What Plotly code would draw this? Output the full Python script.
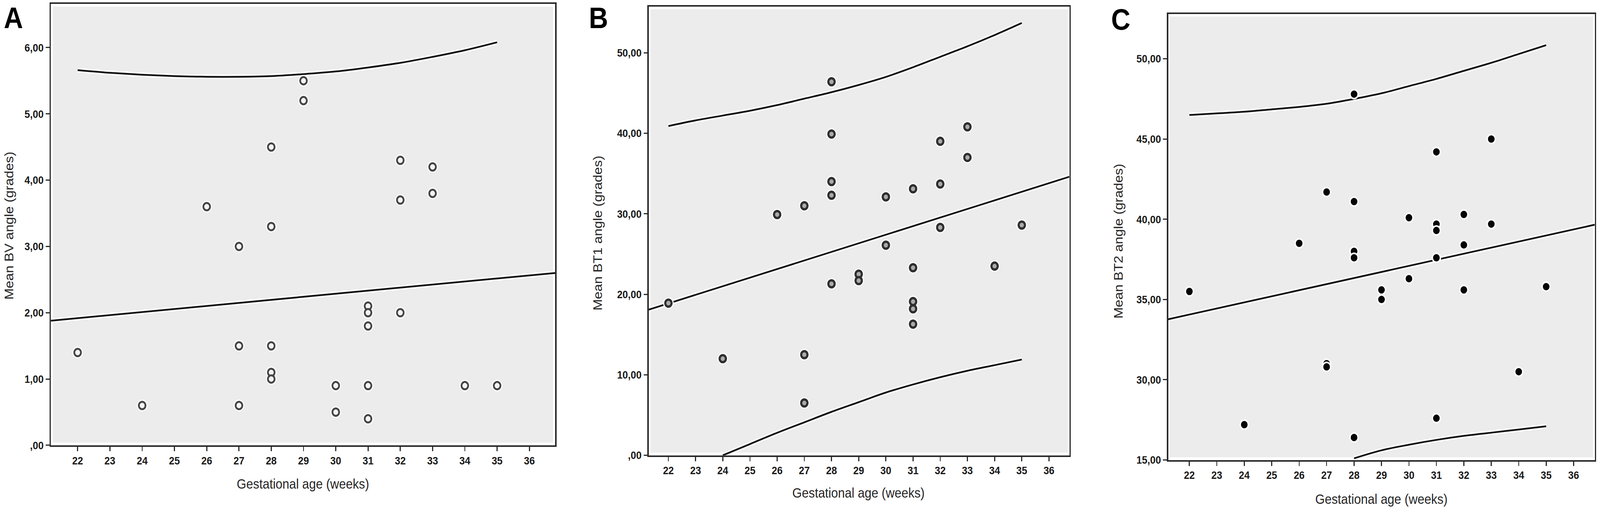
"""
Gestational age vs mean BV / BT1 / BT2 angle, three scatter panels
with fit line and prediction band (SPSS look).
"""

import plotly.graph_objects as go

# --- datos
weeks = [22, 24, 26, 27, 27, 27, 28, 28, 28, 28, 28, 29, 29, 30, 30,
         31, 31, 31, 31, 31, 32, 32, 32, 33, 33, 34, 35]

bv_angle = [1.4, 0.6, 3.6, 3.0, 1.5, 0.6, 4.5, 3.3, 1.5, 1.1, 1.0, 5.5, 5.2,
            0.9, 0.5, 2.1, 2.0, 1.8, 0.9, 0.4, 4.3, 3.7, 2.0, 4.2, 3.8, 0.9, 0.9]

bt1_angle = [18.9, 12.0, 29.9, 31.0, 12.5, 6.5, 46.4, 39.9, 34.0, 32.3, 21.3,
             22.5, 21.7, 32.1, 26.1, 33.1, 23.3, 19.1, 18.2, 16.3, 39.0, 33.7,
             28.3, 40.8, 37.0, 23.5, 28.6]

bt2_angle = [35.5, 27.2, 38.5, 41.7, 31.0, 30.8, 47.8, 41.1, 38.0, 37.6, 26.4,
             35.6, 35.0, 40.1, 36.3, 44.2, 39.7, 39.3, 37.6, 27.6, 40.3, 38.4,
             35.6, 45.0, 39.7, 30.5, 35.8]

# fit lines (edge to edge of each plot)
bv_fit_x = [21.17, 36.8]
bv_fit_y = [1.88, 2.60]
bt1_fit_x = [21.28, 36.75]
bt1_fit_y = [18.1, 34.6]
bt2_fit_x = [21.23, 36.77]
bt2_fit_y = [33.77, 39.66]

# prediction band curves
band_x = [22, 23, 24, 25, 26, 27, 28, 29, 30, 31, 32, 33, 34, 35]
bv_upper = [5.66, 5.62, 5.59, 5.57, 5.56, 5.56, 5.57, 5.60, 5.64, 5.70, 5.77, 5.86, 5.96, 6.08]
bt1_upper = [40.9, 41.6, 42.2, 42.8, 43.5, 44.3, 45.1, 46.0, 47.0, 48.2, 49.5, 50.8, 52.2, 53.7]
bt1_lower_x = [24, 25, 26, 27, 28, 29, 30, 31, 32, 33, 34, 35]
bt1_lower = [0.0, 1.4, 2.8, 4.1, 5.4, 6.6, 7.8, 8.8, 9.7, 10.5, 11.2, 11.9]
bt2_upper = [46.5, 46.6, 46.7, 46.85, 47.0, 47.2, 47.5, 47.85, 48.3, 48.75, 49.25, 49.75, 50.3, 50.85]
bt2_lower_x = [28, 29, 30, 31, 32, 33, 34, 35]
bt2_lower = [25.1, 25.6, 25.95, 26.25, 26.5, 26.7, 26.9, 27.1]

x_ticks = list(range(22, 37))
bv_ticks = [0, 1, 2, 3, 4, 5, 6]
bv_ticktext = [",00", "1,00", "2,00", "3,00", "4,00", "5,00", "6,00"]
bt1_ticks = [0, 10, 20, 30, 40, 50]
bt1_ticktext = [",00", "10,00", "20,00", "30,00", "40,00", "50,00"]
bt2_ticks = [25, 30, 35, 40, 45, 50]
bt2_ticktext = ["15,00", "30,00", "35,00", "40,00", "45,00", "50,00"]

W, H = 4562, 1317
FONT = "Liberation Sans"
BG = "#ECECEC"

fig = go.Figure()


def add_line(x, y, xa, ya):
    # white halo under a black line
    fig.add_trace(go.Scatter(x=x, y=y, mode="lines", xaxis=xa, yaxis=ya,
                             line=dict(color="white", width=12, shape="spline"),
                             hoverinfo="skip", showlegend=False))
    fig.add_trace(go.Scatter(x=x, y=y, mode="lines", xaxis=xa, yaxis=ya,
                             line=dict(color="#111111", width=4.5, shape="spline"),
                             showlegend=False))


def add_points(y, xa, ya, style):
    if style == "open":
        fig.add_trace(go.Scatter(x=weeks, y=y, mode="markers", xaxis=xa, yaxis=ya,
                                 marker=dict(size=30, color="white", line=dict(width=0)),
                                 hoverinfo="skip", showlegend=False))
        fig.add_trace(go.Scatter(x=weeks, y=y, mode="markers", xaxis=xa, yaxis=ya,
                                 marker=dict(size=19, color="#F4F4F4",
                                             line=dict(color="#444444", width=5)),
                                 showlegend=False))
    elif style == "ring":
        fig.add_trace(go.Scatter(x=weeks, y=y, mode="markers", xaxis=xa, yaxis=ya,
                                 marker=dict(size=30, color="white", line=dict(width=0)),
                                 hoverinfo="skip", showlegend=False))
        fig.add_trace(go.Scatter(x=weeks, y=y, mode="markers", xaxis=xa, yaxis=ya,
                                 marker=dict(size=18, color="#AAAAAA",
                                             line=dict(color="#2E2E2E", width=6)),
                                 showlegend=False))
    else:
        fig.add_trace(go.Scatter(x=weeks, y=y, mode="markers", xaxis=xa, yaxis=ya,
                                 marker=dict(size=23, color="#050505",
                                             line=dict(color="white", width=4)),
                                 showlegend=False))


# --- Panel A
add_line(bv_fit_x, bv_fit_y, "x", "y")
add_line(band_x, bv_upper, "x", "y")
add_points(bv_angle, "x", "y", "open")

# --- Panel B
add_line(bt1_fit_x, bt1_fit_y, "x2", "y2")
add_line(band_x, bt1_upper, "x2", "y2")
add_line(bt1_lower_x, bt1_lower, "x2", "y2")
add_points(bt1_angle, "x2", "y2", "ring")

# --- Panel C
add_line(bt2_fit_x, bt2_fit_y, "x3", "y3")
add_line(band_x, bt2_upper, "x3", "y3")
add_line(bt2_lower_x, bt2_lower, "x3", "y3")
add_points(bt2_angle, "x3", "y3", "filled")

panels = [
    # x domain (px), y bottom/top (px), x range, y range, y ticks, y text
    dict(x0=145, x1=1583, yb=1155, yt=10, xr=[21.17, 36.8], yr=[0, 6.66],
         tv=bv_ticks, tt=bv_ticktext),
    dict(x0=1850, x1=3049, yb=1181, yt=17, xr=[21.28, 36.75], yr=[0, 55.74],
         tv=bt1_ticks, tt=bt1_ticktext),
    dict(x0=3331, x1=4547, yb=1193, yt=36, xr=[21.23, 36.77], yr=[25, 52.8],
         tv=bt2_ticks, tt=bt2_ticktext),
]

tickfont = dict(family=FONT, size=28, color="#1A1A1A", weight="bold")
axis_common = dict(showline=True, linecolor="#2A2A2A", linewidth=4, mirror=True,
                   showgrid=False, zeroline=False, ticks="outside", ticklen=11,
                   tickwidth=3, tickcolor="#2A2A2A", tickfont=tickfont)

shapes = []
for i, p in enumerate(panels):
    sfx = "" if i == 0 else str(i + 1)
    fig.layout["xaxis" + sfx] = dict(
        domain=[p["x0"] / W, p["x1"] / W], range=p["xr"], anchor="y" + sfx,
        tickmode="array", tickvals=x_ticks, ticktext=[str(t) for t in x_ticks],
        **axis_common)
    fig.layout["yaxis" + sfx] = dict(
        domain=[1 - p["yb"] / H, 1 - p["yt"] / H], range=p["yr"], anchor="x" + sfx,
        tickmode="array", tickvals=p["tv"], ticktext=p["tt"], **axis_common)
    # grey fill slightly inset from the frame
    shapes.append(dict(type="rect", xref="x" + sfx + " domain", yref="y" + sfx + " domain",
                       x0=0.004, x1=0.996, y0=0.006, y1=0.994, layer="below",
                       fillcolor=BG, line=dict(width=0)))

title_font = dict(family=FONT, size=35, color="#262626")
letter_font = dict(family=FONT, size=76, color="black", weight="bold")
annotations = []
for letter, lx, ly in [("A", 38, 46), ("B", 1706, 46), ("C", 3195, 50)]:
    annotations.append(dict(text=letter, x=lx / W, y=1 - ly / H, xref="paper", yref="paper",
                            showarrow=False, font=letter_font, xanchor="center", yanchor="middle"))

for txt, cx, cy in [("Gestational age (weeks)", 863, 1255),
                    ("Gestational age (weeks)", 2447, 1278),
                    ("Gestational age (weeks)", 3938, 1294)]:
    annotations.append(dict(text=txt, x=cx / W, y=1 - cy / H, xref="paper", yref="paper",
                            showarrow=False, font=title_font, xanchor="center", yanchor="middle"))

for txt, cx, cy in [("Mean BV angle (grades)", 26, 586),
                    ("Mean BT1 angle (grades)", 1704, 605),
                    ("Mean BT2 angle (grades)", 3188, 626)]:
    annotations.append(dict(text=txt, x=cx / W, y=1 - cy / H, xref="paper", yref="paper",
                            showarrow=False, font=title_font, textangle=-90,
                            xanchor="center", yanchor="middle"))

fig.update_layout(
    width=W, height=H,
    margin=dict(l=0, r=0, t=0, b=0),
    paper_bgcolor="white", plot_bgcolor="white",
    showlegend=False,
    shapes=shapes, annotations=annotations,
    font=dict(family=FONT),
)

# the page may not match the figure size: stretch the div to fill the window
fit_js = """
var gd = document.getElementById('{plot_id}');
document.body.style.margin = '0';
document.body.style.overflow = 'hidden';
var sx = window.innerWidth / %d, sy = window.innerHeight / %d;
gd.style.transformOrigin = '0 0';
gd.style.transform = 'scale(' + sx + ',' + sy + ')';
""" % (W, H)

fig.write_html("out.html", post_script=fit_js, config={"displayModeBar": False})
